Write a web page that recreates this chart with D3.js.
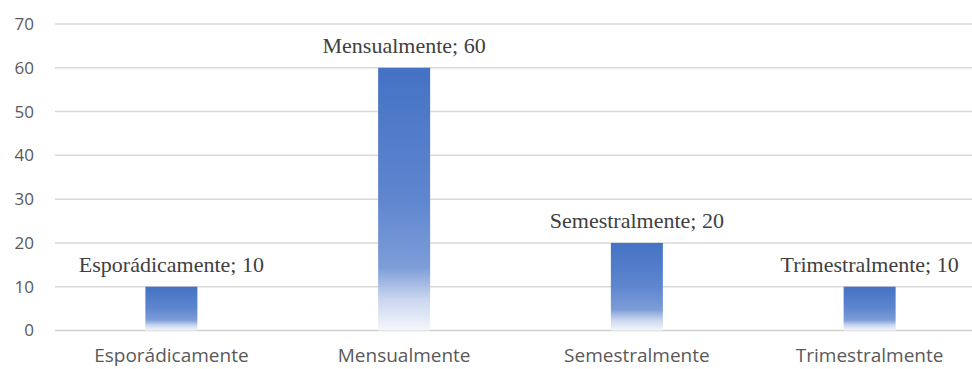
<!DOCTYPE html>
<html>
<head>
<meta charset="utf-8">
<script src="https://cdn.jsdelivr.net/npm/d3@7/dist/d3.min.js"></script>
<style>
  html, body { margin: 0; padding: 0; background: #ffffff; }
  svg { display: block; }
</style>
</head>
<body>
<svg id="chart" width="972" height="369"></svg>
<script>
// Frequency categories and their values
const categories = ["Esporádicamente", "Mensualmente", "Semestralmente", "Trimestralmente"];
const values = [10, 60, 20, 10];
const yTicks = [0, 10, 20, 30, 40, 50, 60, 70];

const svg = d3.select("#chart");
const W = 972, H = 369;

const x = d3.scaleBand().domain(categories).range([55, 986]).paddingInner(0).paddingOuter(0);
const y = d3.scaleLinear().domain([0, 70]).range([330.5, 24]);
const barW = 52;

// Vertical gradient: accent blue at the top fading to white at the base
const defs = svg.append("defs");
const grad = defs.append("linearGradient")
  .attr("id", "barFill")
  .attr("x1", 0).attr("y1", 0).attr("x2", 0).attr("y2", 1);
[
  [0, "#4472c4"],
  [0.5, "#5f86cf"],
  [0.76, "#7d9dd8"],
  [0.88, "#c9d6ef"],
  [1, "#f4f7fc"]
].forEach(([o, c]) => grad.append("stop").attr("offset", o).attr("stop-color", c));

// Gridlines
svg.append("g")
  .selectAll("line")
  .data(yTicks)
  .join("line")
  .attr("x1", 55).attr("x2", W)
  .attr("y1", d => y(d)).attr("y2", d => y(d))
  .attr("stroke", d => d === 0 ? "#cfcfcf" : "#d9d9d9")
  .attr("stroke-width", 1.5);

// Y axis labels
const yAxis = d3.axisLeft(y).tickValues(yTicks).tickSize(0).tickPadding(0);
const gy = svg.append("g").attr("transform", "translate(34,0)").call(yAxis);
gy.select(".domain").remove();
gy.selectAll("text")
  .attr("fill", "#595959")
  .style("font-family", "'Open Sans', sans-serif")
  .style("font-size", "17px");

// X axis labels
const xAxis = d3.axisBottom(x).tickSize(0).tickPadding(0);
const gx = svg.append("g").attr("transform", "translate(0,348)").call(xAxis);
gx.select(".domain").remove();
gx.selectAll("text")
  .attr("fill", "#595959")
  .style("font-family", "'Open Sans', sans-serif")
  .style("font-size", "19px");

// Bars
svg.append("g")
  .selectAll("rect")
  .data(values)
  .join("rect")
  .attr("x", (d, i) => x(categories[i]) + x.bandwidth() / 2 - barW / 2)
  .attr("width", barW)
  .attr("y", d => y(d))
  .attr("height", d => y(0) - y(d))
  .attr("fill", "url(#barFill)");

// Data labels: "category; value"
svg.append("g")
  .selectAll("text")
  .data(values)
  .join("text")
  .attr("x", (d, i) => x(categories[i]) + x.bandwidth() / 2)
  .attr("y", d => y(d) - 15)
  .attr("text-anchor", "middle")
  .attr("fill", "#404040")
  .style("font-family", "'Liberation Serif', 'Times New Roman', serif")
  .style("font-size", "22px")
  .text((d, i) => `${categories[i]}; ${d}`);
</script>
</body>
</html>
